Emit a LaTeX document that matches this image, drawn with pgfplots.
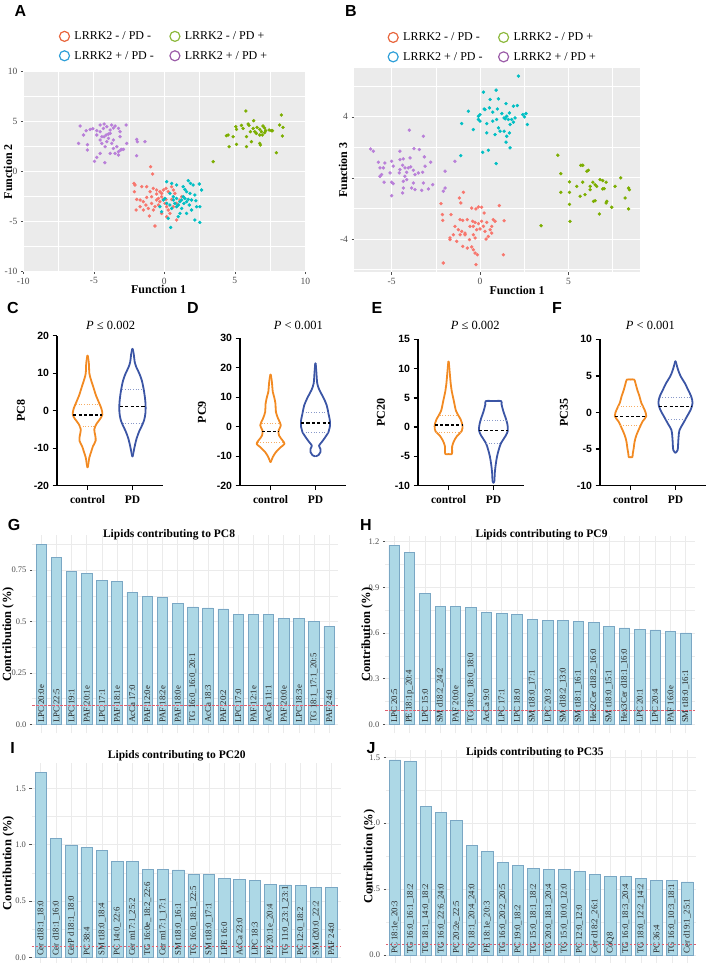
\documentclass[border=0pt]{standalone}
\usepackage{fontspec}
\setmainfont{Liberation Serif}
\setsansfont{Liberation Sans}
\usepackage{pgfplots}
\usepackage{pgfplotstable}
\pgfplotsset{compat=1.18}
\newcommand{\fs}[1]{\fontsize{#1bp}{#1bp}\selectfont}
\definecolor{gred}{HTML}{F8766D}
\definecolor{gcyan}{HTML}{00BFC4}
\definecolor{ggreen}{HTML}{7CAE00}
\definecolor{gpurple}{HTML}{B97FD9}
\definecolor{lred}{HTML}{E8663D}
\definecolor{lcyan}{HTML}{2E9FD8}
\definecolor{lgreen}{HTML}{8DB93E}
\definecolor{lpurple}{HTML}{9B5CA8}
\definecolor{ggbg}{HTML}{EBEBEB}
\definecolor{vorange}{HTML}{F28A22}
\definecolor{vblue}{HTML}{3B55A5}
\definecolor{barfill}{HTML}{ADD8E6}
\definecolor{bardraw}{HTML}{7AA7C4}
\definecolor{gridg}{HTML}{EBEBEB}
\definecolor{txtg}{HTML}{4D4D4D}
\definecolor{redline}{HTML}{E06070}

\pgfplotsset{
 ggscatter/.style={scale only axis, axis background/.style={fill=ggbg}, axis line style={draw=none},
   xmajorgrids, ymajorgrids, xminorgrids, yminorgrids,
   major grid style={white, line width=0.9bp}, minor grid style={white, line width=0.45bp},
   tick pos=left, tick align=outside, major tick length=2.5bp, minor tick length=0pt,
   tick style={txtg, line width=0.5bp}, tick label style={font=\fs{9.5}, text=txtg},
   /pgf/number format/assume math mode=true, label style={font=\bfseries\fs{12}},
   legend columns=2, legend cell align=left,
   legend style={draw=none, fill=none, font=\fs{12}, row sep=6bp,
     /tikz/every odd column/.append style={column sep=3bp},
     /tikz/every even column/.append style={column sep=14bp}}},
 pts/.style={only marks, mark=*, mark size=1.5bp, forget plot},
 leg/.style={only marks, mark=o, mark size=5bp, mark options={line width=1.2bp}},
 violinax/.style={scale only axis, width=106bp, xmin=-0.68, xmax=1.68,
   axis x line*=bottom, axis y line*=left, axis line style={-, line width=1.3bp},
   every outer x axis line/.append style={-}, every outer y axis line/.append style={-},
   xtick={0,1}, xticklabels={control,PD}, tick align=outside, major tick length=4.5bp,
   tick style={line width=1.3bp, black},
   yticklabel style={font=\sffamily\bfseries\fs{10.5}},
   xticklabel style={font=\bfseries\fs{11.5}, yshift=-2bp},
   /pgf/number format/assume math mode=true, clip=false,
   title style={font=\fs{12.5}, anchor=center}, ylabel style={font=\bfseries\fs{12}, anchor=center}},
 vline/.style={line width=1.8bp, smooth, tension=0.55, line cap=round, line join=round},
 med/.style={black, line width=1.4bp, dash pattern=on 3.2bp off 2.2bp},
 qrt/.style={line width=0.7bp, dotted},
 barax/.style={scale only axis, xmin=0.4, xmax=20.6, axis line style={draw=none},
   xtick={1,...,20}, xticklabels={}, xtick style={draw=none},
   xmajorgrids, ymajorgrids, yminorgrids,
   major grid style={gridg, line width=0.6bp}, minor grid style={gridg, line width=0.35bp},
   ytick pos=left, tick align=outside, major tick length=2.2bp, minor tick length=0pt,
   ytick style={txtg, line width=0.5bp}, yticklabel style={font=\fs{8.5}, text=txtg},
   ylabel={Contribution (\%)}, ylabel style={font=\bfseries\fs{12.5}, anchor=center},
   title style={font=\bfseries\fs{11.5}, anchor=center}, clip=false},
 bars/.style={ybar, fill=barfill, draw=bardraw, line width=0.7bp},
 blab/.style={draw=none, mark=none, point meta=explicit symbolic,
   nodes near coords={\pgfplotspointmeta},
   nodes near coords style={rotate=90, anchor=west, font=\fs{8.8}, inner sep=1.2bp, text=black!85}},
 rline/.style={draw=redline, line width=0.6bp, dash pattern=on 2.5bp off 1.5bp},
}

% violin profiles: y, half-width (data units)
\pgfplotstableread[row sep=\\]{
y w\\ -15.1 0.005\\ -14.0 0.02\\ -12.5 0.04\\ -11.0 0.08\\ -9.5 0.12\\ -8.0 0.18\\ -6.5 0.17\\ -5.0 0.15\\ -3.5 0.20\\ -2.2 0.28\\ -1.0 0.33\\ 0.5 0.31\\ 2.0 0.26\\ 4.0 0.19\\ 5.5 0.15\\ 7.0 0.11\\ 8.5 0.07\\ 10.0 0.04\\ 12.5 0.03\\ 14.7 0.005\\
}\vCc
\pgfplotstableread[row sep=\\]{
y w\\ -12.2 0.005\\ -11.3 0.02\\ -9.5 0.05\\ -7.5 0.09\\ -5.5 0.15\\ -4.0 0.21\\ -2.5 0.26\\ -0.5 0.29\\ 2.0 0.29\\ 5.0 0.26\\ 8.0 0.21\\ 10.0 0.15\\ 11.5 0.09\\ 13.0 0.05\\ 15.0 0.03\\ 16.5 0.005\\
}\vCp
\pgfplotstableread[row sep=\\]{
y w\\ -12.0 0.005\\ -10.3 0.05\\ -8.6 0.12\\ -6.9 0.23\\ -5.8 0.31\\ -4.7 0.27\\ -3.0 0.19\\ -1.25 0.18\\ 0.5 0.23\\ 2.7 0.17\\ 5.0 0.12\\ 7.8 0.11\\ 10.1 0.08\\ 11.8 0.05\\ 15.2 0.03\\ 17.7 0.005\\
}\vDc
\pgfplotstableread[row sep=\\]{
y w\\ -10.0 0.01\\ -9.6 0.07\\ -8.6 0.11\\ -7.5 0.11\\ -6.4 0.08\\ -5.2 0.14\\ -3.5 0.22\\ -1.8 0.29\\ -0.1 0.32\\ 2.2 0.32\\ 4.4 0.29\\ 7.3 0.25\\ 10.1 0.17\\ 12.4 0.09\\ 14.7 0.04\\ 18.6 0.02\\ 21.5 0.005\\
}\vDp
\pgfplotstableread[row sep=\\]{
y w\\ -4.6 0.0\\ -4.6 0.07\\ -4.1 0.08\\ -3.3 0.08\\ -2.4 0.12\\ -1.5 0.19\\ -0.7 0.29\\ 0.2 0.31\\ 1.3 0.27\\ 2.7 0.17\\ 4.4 0.12\\ 6.2 0.07\\ 7.3 0.05\\ 9.0 0.03\\ 11.2 0.005\\
}\vEc
\pgfplotstableread[row sep=\\]{
y w\\ -9.5 0.005\\ -9.2 0.02\\ -7.8 0.03\\ -6.4 0.05\\ -5.0 0.08\\ -3.8 0.12\\ -2.7 0.17\\ -1.5 0.27\\ -0.6 0.32\\ 0.5 0.31\\ 1.6 0.27\\ 2.7 0.22\\ 3.9 0.18\\ 4.45 0.17\\ 4.45 0.0\\
}\vEp
\pgfplotstableread[row sep=\\]{
y w\\ -6.1 0.0\\ -6.1 0.04\\ -5.6 0.05\\ -4.9 0.07\\ -4.0 0.09\\ -3.1 0.13\\ -2.1 0.20\\ -1.2 0.27\\ -0.5 0.35\\ 0.4 0.31\\ 1.3 0.24\\ 2.2 0.20\\ 3.1 0.15\\ 4.0 0.11\\ 4.5 0.08\\ 4.5 0.0\\
}\vFc
\pgfplotstableread[row sep=\\]{
y w\\ -5.5 0.005\\ -5.1 0.05\\ -4.2 0.06\\ -3.3 0.07\\ -2.4 0.09\\ -1.5 0.17\\ -0.5 0.26\\ 0.4 0.34\\ 1.3 0.38\\ 2.2 0.35\\ 3.1 0.28\\ 4.0 0.21\\ 4.9 0.12\\ 5.8 0.06\\ 7.0 0.005\\
}\vFp

% bar data
\pgfplotstableread[col sep=comma, row sep=\\]{
i,v,lab\\
1,0.876,LPC 20:0e\\ 2,0.811,LPC 22:5\\ 3,0.745,LPC 19:1\\ 4,0.733,PAF 20:1e\\ 5,0.702,LPC 17:1\\
6,0.694,PAF 18:1e\\ 7,0.642,AcCa 17:0\\ 8,0.621,PAF 12:0e\\ 9,0.616,PAF 18:2e\\ 10,0.587,PAF 18:0e\\
11,0.571,TG 16:0\_16:0\_20:1\\ 12,0.566,AcCa 18:3\\ 13,0.561,PAF 20:2\\ 14,0.535,LPC 17:0\\ 15,0.533,PAF 12:1e\\
16,0.533,AcCa 11:1\\ 17,0.516,PAF 20:0e\\ 18,0.514,LPC 18:3e\\ 19,0.501,TG 18:1\_17:1\_20:5\\ 20,0.475,PAF 24:0\\
}\tG
\pgfplotstableread[col sep=comma, row sep=\\]{
i,v,lab\\
1,1.176,LPC 20:5\\ 2,1.130,PE 18:1p\_20:4\\ 3,0.861,LPC 15:0\\ 4,0.777,SM d18:2\_24:2\\ 5,0.775,PAF 20:0e\\
6,0.769,TG 18:0\_18:0\_18:0\\ 7,0.736,AcCa 9:0\\ 8,0.727,LPC 17:1\\ 9,0.723,LPC 18:0\\ 10,0.690,SM t18:0\_17:1\\
11,0.685,LPC 20:3\\ 12,0.683,SM d18:2\_13:0\\ 13,0.674,SM t18:1\_16:1\\ 14,0.672,Hex2Cer d18:2\_16:0\\ 15,0.644,SM t18:0\_15:1\\
16,0.633,Hex3Cer d18:1\_16:0\\ 17,0.622,LPC 20:1\\ 18,0.620,LPC 20:4\\ 19,0.613,PAF 16:0e\\ 20,0.600,SM t18:0\_16:1\\
}\tH
\pgfplotstableread[col sep=comma, row sep=\\]{
i,v,lab\\
1,1.642,Cer d18:1\_18:0\\ 2,1.056,Cer d18:1\_16:0\\ 3,0.997,CerP d18:1\_18:0\\ 4,0.976,PC 38:4\\ 5,0.950,SM t18:0\_18:4\\
6,0.852,PC 14:0\_22:6\\ 7,0.852,Cer m17:1\_25:2\\ 8,0.781,TG 16:0e\_18:2\_22:6\\ 9,0.781,Cer m17:1\_17:1\\ 10,0.775,SM t18:0\_16:1\\
11,0.737,TG 16:0\_18:1\_22:5\\ 12,0.733,SM t18:0\_17:1\\ 13,0.701,LPE 16:0\\ 14,0.692,AcCa 23:0\\ 15,0.686,LPC 18:3\\
16,0.648,PE 20:1e\_20:4\\ 17,0.642,TG 11:0\_23:1\_23:1\\ 18,0.639,PC 12:0\_18:2\\ 19,0.618,SM d20:0\_22:2\\ 20,0.618,PAF 24:0\\
}\tI
\pgfplotstableread[col sep=comma, row sep=\\]{
i,v,lab\\
1,1.480,PC 18:1e\_20:3\\ 2,1.472,TG 16:0\_16:1\_18:2\\ 3,1.128,TG 18:1\_14:0\_18:2\\ 4,1.085,TG 16:0\_22:6\_24:0\\ 5,1.024,PC 20:2e\_22:5\\
6,0.832,TG 18:1\_20:4\_24:0\\ 7,0.787,PE 18:1e\_20:3\\ 8,0.703,TG 16:0\_20:2\_20:5\\ 9,0.680,PC 19:0\_18:2\\ 10,0.660,TG 15:0\_18:1\_18:2\\
11,0.652,TG 20:0\_18:1\_20:4\\ 12,0.652,TG 15:0\_10:0\_12:0\\ 13,0.637,PC 12:0\_12:0\\ 14,0.612,Cer d18:2\_26:1\\ 15,0.599,CoQ8\\
16,0.594,TG 16:0\_18:3\_20:4\\ 17,0.584,TG 18:0\_12:2\_14:2\\ 18,0.569,PC 36:4\\ 19,0.569,TG 16:0\_10:3\_18:1\\ 20,0.554,Cer d19:1\_25:1\\
}\tJ

\begin{document}
\begin{tikzpicture}

% ---------------- A ----------------
\begin{axis}[ggscatter, at={(23.3bp,-271.7bp)}, anchor=south west, width=282bp, height=200bp,
  xmin=-10, xmax=10, ymin=-10, ymax=10,
  xtick={-10,-5,0,5,10}, ytick={-10,-5,0,5,10},
  minor xtick={-7.5,-2.5,2.5,7.5}, minor ytick={-7.5,-2.5,2.5,7.5},
  xlabel={Function 1}, ylabel={Function 2},
  xlabel style={at={(axis description cs:0.48,-0.09)}, anchor=center},
  ylabel style={at={(axis description cs:-0.054,0.5)}, anchor=center},
  legend style={at={(axis description cs:0.5,1.035)}, anchor=south}]
\addlegendimage{leg, lred}\addlegendentry{LRRK2 - / PD -}
\addlegendimage{leg, lgreen}\addlegendentry{LRRK2 - / PD +}
\addlegendimage{leg, lcyan}\addlegendentry{LRRK2 + / PD -}
\addlegendimage{leg, lpurple}\addlegendentry{LRRK2 + / PD +}
\addplot[pts, gpurple] coordinates {(-5.97,4.57) (-5.54,4.10) (-5.26,4.23) (-5.07,4.30) (-5.73,3.67) (-6.08,2.83) (-5.45,2.17) (-4.79,4.10) (-4.55,4.00) (-4.32,4.33) (-4.27,4.77) (-4.08,4.50) (-3.84,4.17) (-3.73,4.67) (-3.61,4.37) (-3.49,4.57) (-3.25,4.33) (-3.14,4.00) (-2.71,4.67) (-4.27,3.50) (-4.13,3.67) (-3.96,3.33) (-3.84,3.83) (-4.43,2.83) (-4.20,2.50) (-4.08,3.00) (-3.73,2.83) (-3.61,2.33) (-3.37,2.50) (-3.25,2.00) (-3.09,2.17) (-2.90,2.23) (-2.67,2.83) (-3.49,1.83) (-3.84,1.83) (-4.55,1.83) (-4.79,1.43) (-4.95,1.03) (-4.22,0.90) (-3.25,1.67) (-1.96,3.23) (-1.91,3.00) (-1.37,3.00) (-1.96,1.60) (-5.45,2.70) (-4.55,3.17) (-3.96,3.77) (-4.79,3.67) (-4.43,3.50) (-3.61,3.17) (-4.55,4.67) (-3.14,3.50) (-3.02,2.23)};
\addplot[pts, ggreen] coordinates {(5.78,6.07) (6.34,5.10) (5.94,4.77) (6.01,4.63) (5.07,4.50) (5.12,4.23) (5.47,4.63) (6.11,4.00) (6.42,4.00) (6.58,4.43) (6.77,4.23) (7.00,4.57) (7.12,4.37) (7.19,4.10) (7.43,4.17) (7.59,4.10) (6.53,3.83) (6.77,3.67) (6.89,4.00) (6.96,3.67) (7.12,3.90) (5.83,3.50) (6.18,3.00) (6.77,2.83) (6.82,2.67) (5.83,2.50) (5.12,2.73) (4.60,2.50) (4.53,3.67) (4.41,3.60) (4.88,3.50) (8.30,5.67) (8.42,4.43) (8.18,4.67) (8.37,3.57) (7.95,1.90) (3.47,1.00) (5.59,4.33) (6.30,4.33) (7.67,4.10)};
\addplot[pts, gred] coordinates {(-0.97,0.50) (-0.83,-0.23) (-2.15,-1.17) (-2.08,-1.33) (-2.12,-2.00) (-1.60,-1.50) (-1.25,-1.50) (-1.01,-2.00) (-0.78,-1.67) (-0.54,-1.83) (-0.31,-2.00) (-0.19,-2.17) (-0.07,-1.83) (0.12,-1.67) (0.28,-2.00) (0.52,-1.50) (0.64,-1.83) (0.75,-2.17) (-1.96,-2.77) (-2.00,-3.83) (-1.72,-2.83) (-1.49,-3.00) (-1.30,-3.33) (-1.13,-3.67) (-0.90,-3.17) (-0.78,-3.83) (-0.66,-3.50) (-0.54,-2.83) (-0.42,-2.67) (-0.31,-3.00) (-0.07,-2.77) (0.05,-3.17) (0.17,-3.50) (0.28,-3.83) (0.40,-4.17) (0.64,-3.50) (0.87,-3.17) (1.11,-2.83) (1.23,-2.50) (-1.06,-4.43) (-0.66,-5.43) (-0.19,-4.17) (0.17,-4.50) (0.87,-4.83) (-0.42,-3.33) (-0.19,-2.50) (-1.72,-3.50) (-1.49,-3.83) (-1.25,-2.57) (-0.90,-2.50) (0.12,-2.77) (0.52,-2.77) (-0.54,-2.23)};
\addplot[pts, gcyan] coordinates {(0.17,-1.00) (0.52,-1.17) (0.87,-1.33) (1.34,-1.50) (1.46,-1.77) (1.70,-0.90) (1.86,-1.17) (2.05,-1.33) (2.48,-1.23) (2.64,-1.83) (1.58,-2.00) (1.82,-2.17) (2.17,-2.33) (1.46,-2.67) (1.23,-2.83) (1.11,-3.00) (0.99,-3.33) (0.64,-2.83) (0.75,-3.17) (0.40,-3.33) (0.17,-3.17) (-0.31,-3.50) (-0.19,-4.00) (0.28,-4.67) (0.52,-3.67) (0.87,-3.50) (1.23,-3.67) (1.39,-3.17) (1.58,-3.00) (1.70,-2.77) (1.93,-2.83) (2.24,-2.90) (2.29,-3.50) (1.93,-3.83) (1.58,-4.17) (1.11,-4.17) (2.17,-4.83) (2.52,-5.07) (0.45,-5.57) (0.99,-4.50) (1.34,-2.50) (0.64,-2.50) (0.87,-2.67) (1.77,-3.33) (2.52,-3.50) (0.05,-2.67) (-0.07,-2.83) (0.40,-2.17)};
\end{axis}

% ---------------- B ----------------
\begin{axis}[ggscatter, at={(354bp,-272bp)}, anchor=south west, width=286bp, height=204bp,
  xmin=-7.13, xmax=9.05, ymin=-6.16, ymax=7.2,
  xtick={-5,0,5}, ytick={-4,0,4},
  minor xtick={-2.5,2.5,7.5}, minor ytick={-6,-2,2,6},
  xlabel={Function 1}, ylabel={Function 3},
  xlabel style={at={(axis description cs:0.57,-0.09)}, anchor=center},
  ylabel style={at={(axis description cs:-0.038,0.5)}, anchor=center},
  legend style={at={(axis description cs:0.486,1.011)}, anchor=south}]
\addlegendimage{leg, lred}\addlegendentry{LRRK2 - / PD -}
\addlegendimage{leg, lgreen}\addlegendentry{LRRK2 - / PD +}
\addlegendimage{leg, lcyan}\addlegendentry{LRRK2 + / PD -}
\addlegendimage{leg, lpurple}\addlegendentry{LRRK2 + / PD +}
\addplot[pts, gcyan] coordinates {(2.17,6.67) (0.19,5.62) (0.91,5.75) (0.57,5.14) (1.04,5.18) (1.47,4.87) (1.89,4.70) (2.11,4.74) (-0.66,4.37) (-0.09,4.04) (0.00,4.15) (0.23,4.52) (0.28,4.48) (0.53,4.59) (0.72,4.31) (0.98,4.52) (1.23,4.22) (1.36,3.93) (1.51,4.04) (1.66,4.26) (1.79,3.83) (1.89,3.65) (2.42,4.15) (2.60,4.22) (2.51,4.00) (2.68,3.50) (-1.04,3.56) (-0.38,3.17) (-0.09,3.83) (0.38,3.56) (0.72,3.72) (0.94,3.83) (1.42,3.87) (1.70,3.50) (0.38,2.95) (0.85,2.84) (1.13,3.06) (1.36,3.06) (1.51,2.73) (1.66,2.95) (1.47,2.34) (1.70,1.97) (0.15,1.68) (0.47,1.81) (0.91,0.94) (-1.09,1.46) (0.00,3.72) (1.04,3.28) (1.98,3.93) (1.60,3.83)};
\addplot[pts, gpurple] coordinates {(-4.00,3.13) (-3.21,2.73) (-6.19,1.90) (-6.04,1.75) (-4.53,1.75) (-3.74,1.92) (-3.43,1.86) (-5.75,1.03) (-5.38,0.98) (-5.00,1.09) (-4.53,1.20) (-4.34,1.25) (-3.96,1.31) (-3.15,1.38) (-2.79,1.03) (-5.66,0.66) (-5.47,0.66) (-4.91,0.77) (-4.53,0.55) (-4.38,0.83) (-4.25,0.66) (-4.06,0.66) (-3.92,0.72) (-3.77,0.50) (-3.49,0.33) (-3.11,0.77) (-5.57,0.22) (-5.09,0.33) (-4.57,0.33) (-4.15,0.37) (-3.68,0.22) (-3.25,0.37) (-1.98,0.44) (-5.43,-0.28) (-5.00,-0.28) (-4.91,-0.37) (-4.34,-0.22) (-4.15,-0.11) (-3.77,-0.33) (-3.21,-0.33) (-2.68,-0.44) (-4.34,-0.66) (-3.87,-0.66) (-3.68,-0.77) (-3.30,-0.81) (-2.92,-0.72) (-5.00,-1.16) (-4.38,-0.98) (-2.08,-0.87) (-1.98,-0.66) (-1.42,1.09) (-5.66,0.11) (-4.25,0.11)};
\addplot[pts, gred] coordinates {(-0.94,-0.94) (-1.17,-1.31) (-1.09,-1.64) (-2.21,-1.68) (-1.64,-2.40) (-2.13,-2.40) (-2.11,-2.78) (-0.47,-1.97) (-0.23,-2.03) (-0.09,-1.90) (0.09,-1.92) (0.23,-2.30) (1.09,-1.81) (-1.13,-2.73) (-0.98,-2.78) (-0.72,-2.73) (-0.42,-2.84) (-0.28,-2.91) (-0.09,-2.99) (0.09,-2.84) (0.38,-2.91) (0.75,-2.73) (0.85,-2.84) (1.36,-2.80) (-1.42,-3.17) (-1.23,-3.39) (-1.04,-3.50) (-0.85,-3.61) (-0.57,-3.17) (-0.38,-3.17) (-0.19,-3.39) (0.00,-3.34) (0.19,-3.17) (0.28,-3.50) (0.57,-3.39) (0.66,-3.17) (-1.70,-3.93) (-1.51,-3.72) (-1.13,-3.72) (-0.85,-3.72) (-0.38,-3.72) (-0.28,-3.93) (0.34,-4.00) (0.47,-3.83) (0.66,-3.61) (-0.98,-4.48) (-0.72,-4.59) (-0.47,-4.52) (-0.38,-4.70) (-0.28,-4.92) (-0.15,-5.03) (1.32,-5.03) (-2.08,-5.57) (-0.23,-5.68) (-1.70,-4.04) (-1.32,-4.15) (-0.60,-4.04)};
\addplot[pts, ggreen] coordinates {(4.40,1.49) (4.57,0.28) (5.70,0.83) (5.81,0.83) (6.04,0.44) (6.13,0.50) (5.06,-0.26) (5.81,-0.28) (6.23,-0.55) (6.38,-0.28) (6.51,-0.44) (6.79,-0.11) (6.94,-0.17) (7.13,-0.28) (7.64,-0.55) (7.96,0.00) (4.57,-0.94) (5.06,-0.94) (5.66,-1.20) (5.94,-1.09) (6.23,-0.77) (6.42,-1.53) (6.51,-1.49) (6.94,-0.72) (7.02,-0.70) (7.17,-1.53) (7.13,-1.64) (7.45,-1.92) (6.75,-2.36) (5.06,-1.73) (8.40,-0.66) (8.45,-0.77) (8.21,-1.31) (8.40,-2.03) (5.09,-2.84) (3.45,-3.13) (6.60,-0.55) (5.47,-0.55)};
\end{axis}

% ---------------- C ----------------
\begin{axis}[violinax, at={(57bp,-485.7bp)}, anchor=south west, height=150bp,
  ymin=-20, ymax=20, ytick={-20,-10,0,10,20},
  title={\textit{P} ≤ 0.002}, title style={at={(axis description cs:0.506,1.027)}},
  ylabel={PC8}, ylabel style={at={(axis description cs:-0.34,0.5)}}]
\addplot[vline, vorange] table[x expr=\thisrow{w}, y=y] {\vCc};
\addplot[vline, vorange] table[x expr=-\thisrow{w}, y=y] {\vCc};
\addplot[vline, vblue] table[x expr=1+\thisrow{w}, y=y] {\vCp};
\addplot[vline, vblue] table[x expr=1-\thisrow{w}, y=y] {\vCp};
\addplot[qrt, vorange!70] coordinates {(-0.26,1.8) (0.26,1.8)};
\addplot[qrt, vorange!70] coordinates {(-0.17,-4.1) (0.17,-4.1)};
\addplot[qrt, vblue!60] coordinates {(0.77,5.8) (1.23,5.8)};
\addplot[qrt, vblue!60] coordinates {(0.78,-3.3) (1.22,-3.3)};
\addplot[med] coordinates {(-0.32,-1.15) (0.32,-1.15)};
\addplot[med] coordinates {(0.72,1.15) (1.28,1.15)};
\end{axis}

% ---------------- D ----------------
\begin{axis}[violinax, at={(240bp,-485.7bp)}, anchor=south west, height=147.4bp,
  ymin=-20, ymax=30, ytick={-20,-10,0,10,20,30},
  title={\textit{P} < 0.001}, title style={at={(axis description cs:0.55,1.045)}},
  ylabel={PC9}, ylabel style={at={(axis description cs:-0.36,0.5)}}]
\addplot[vline, vorange] table[x expr=\thisrow{w}, y=y] {\vDc};
\addplot[vline, vorange] table[x expr=-\thisrow{w}, y=y] {\vDc};
\addplot[vline, vblue] table[x expr=1+\thisrow{w}, y=y] {\vDp};
\addplot[vline, vblue] table[x expr=1-\thisrow{w}, y=y] {\vDp};
\addplot[qrt, vorange!70] coordinates {(-0.2,1.25) (0.2,1.25)};
\addplot[qrt, vorange!70] coordinates {(-0.29,-5.2) (0.29,-5.2)};
\addplot[qrt, vblue!60] coordinates {(0.72,4.8) (1.28,4.8)};
\addplot[qrt, vblue!60] coordinates {(0.72,-2.0) (1.28,-2.0)};
\addplot[med] coordinates {(-0.19,-1.6) (0.19,-1.6)};
\addplot[med] coordinates {(0.68,1.25) (1.32,1.25)};
\end{axis}

% ---------------- E ----------------
\begin{axis}[violinax, at={(418bp,-485.7bp)}, anchor=south west, height=146.4bp,
  ymin=-10, ymax=15, ytick={-10,-5,0,5,10,15},
  title={\textit{P} ≤ 0.002}, title style={at={(axis description cs:0.54,1.052)}},
  ylabel={PC20}, ylabel style={at={(axis description cs:-0.35,0.5)}}]
\addplot[vline, vorange] table[x expr=\thisrow{w}, y=y] {\vEc};
\addplot[vline, vorange] table[x expr=-\thisrow{w}, y=y] {\vEc};
\addplot[vline, vblue] table[x expr=1+\thisrow{w}, y=y] {\vEp};
\addplot[vline, vblue] table[x expr=1-\thisrow{w}, y=y] {\vEp};
\addplot[qrt, vorange!70] coordinates {(-0.2,2.05) (0.2,2.05)};
\addplot[qrt, vorange!70] coordinates {(-0.28,-0.85) (0.28,-0.85)};
\addplot[qrt, vblue!60] coordinates {(0.73,1.2) (1.27,1.2)};
\addplot[qrt, vblue!60] coordinates {(0.83,-2.7) (1.17,-2.7)};
\addplot[med] coordinates {(-0.31,0.4) (0.31,0.4)};
\addplot[med] coordinates {(0.68,-0.55) (1.32,-0.55)};
\end{axis}

% ---------------- F ----------------
\begin{axis}[violinax, at={(600bp,-485.7bp)}, anchor=south west, height=146.4bp,
  ymin=-10, ymax=10, ytick={-10,-5,0,5,10},
  title={\textit{P} < 0.001}, title style={at={(axis description cs:0.476,1.052)}},
  ylabel={PC35}, ylabel style={at={(axis description cs:-0.34,0.5)}}]
\addplot[vline, vorange] table[x expr=\thisrow{w}, y=y] {\vFc};
\addplot[vline, vorange] table[x expr=-\thisrow{w}, y=y] {\vFc};
\addplot[vline, vblue] table[x expr=1+\thisrow{w}, y=y] {\vFp};
\addplot[vline, vblue] table[x expr=1-\thisrow{w}, y=y] {\vFp};
\addplot[qrt, vorange!70] coordinates {(-0.28,0.8) (0.28,0.8)};
\addplot[qrt, vorange!70] coordinates {(-0.23,-1.7) (0.23,-1.7)};
\addplot[qrt, vblue!60] coordinates {(0.65,2.1) (1.35,2.1)};
\addplot[qrt, vblue!60] coordinates {(0.78,-0.9) (1.22,-0.9)};
\addplot[med] coordinates {(-0.35,-0.55) (0.35,-0.55)};
\addplot[med] coordinates {(0.63,0.8) (1.37,0.8)};
\end{axis}

% ---------------- G ----------------
\begin{axis}[barax, at={(32.2bp,-733.3bp)}, anchor=south west, width=306.1bp, height=198.1bp,
  ymin=-0.044, ymax=0.92, ytick={0,0.25,0.5,0.75}, yticklabels={0.0,0.25,0.5,0.75},
  minor ytick={0.125,0.375,0.625,0.875},
  title={Lipids contributing to PC8}, title style={at={(axis description cs:0.447,0.971)}},
  ylabel style={at={(axis description cs:-0.079,0.5)}}]
\addplot[bars, bar width=0.69] table[x=i, y=v] {\tG};
\addplot[blab] table[x=i, y expr=0, meta=lab] {\tG};
\addplot[rline] coordinates {(0.4,0.09) (20.6,0.09)};
\end{axis}

% ---------------- H ----------------
\begin{axis}[barax, at={(385bp,-733.25bp)}, anchor=south west, width=310bp, height=196.9bp,
  ymin=-0.0588, ymax=1.235, ytick={0,0.3,0.6,0.9,1.2}, yticklabels={0.0,0.3,0.6,0.9,1.2},
  minor ytick={0.15,0.45,0.75,1.05},
  title={Lipids contributing to PC9}, title style={at={(axis description cs:0.505,0.976)}},
  ylabel style={at={(axis description cs:-0.058,0.5)}}]
\addplot[bars, bar width=0.68] table[x=i, y=v] {\tH};
\addplot[blab] table[x=i, y expr=0, meta=lab] {\tH};
\addplot[rline] coordinates {(0.4,0.09) (20.6,0.09)};
\end{axis}

% ---------------- I ----------------
\begin{axis}[barax, at={(31.6bp,-962.9bp)}, anchor=south west, width=308.9bp, height=199.8bp,
  ymin=-0.05, ymax=1.724, ytick={0,0.5,1,1.5}, yticklabels={0.0,0.5,1.0,1.5},
  minor ytick={0.25,0.75,1.25},
  title={Lipids contributing to PC20}, title style={at={(axis description cs:0.47,1.007)}},
  ylabel style={at={(axis description cs:-0.075,0.5)}}]
\addplot[bars, bar width=0.75] table[x=i, y=v] {\tI};
\addplot[blab] table[x=i, y expr=0, meta=lab] {\tI};
\addplot[rline] coordinates {(0.4,0.094) (20.6,0.094)};
\end{axis}

% ---------------- J ----------------
\begin{axis}[barax, at={(385.8bp,-962.9bp)}, anchor=south west, width=310.6bp, height=212.7bp,
  ymin=-0.06, ymax=1.554, ytick={0,0.5,1,1.5}, yticklabels={0.0,0.5,1.0,1.5},
  minor ytick={0.25,0.75,1.25},
  title={Lipids contributing to PC35}, title style={at={(axis description cs:0.48,0.962)}},
  ylabel style={at={(axis description cs:-0.053,0.5)}}]
\addplot[bars, bar width=0.74] table[x=i, y=v] {\tJ};
\addplot[blab] table[x=i, y expr=0, meta=lab] {\tJ};
\addplot[rline] coordinates {(0.4,0.085) (20.6,0.085)};
\end{axis}

% panel letters
\begin{scope}[every node/.style={font=\sffamily\bfseries\fs{16}}]
\node at (20.5bp,-11bp) {A};
\node at (351bp,-11bp) {B};
\node at (13bp,-308bp) {C};
\node at (193bp,-308bp) {D};
\node at (377bp,-308bp) {E};
\node at (557bp,-308bp) {F};
\node at (14bp,-525bp) {G};
\node at (366bp,-525bp) {H};
\node at (12.5bp,-748bp) {I};
\node at (371bp,-748bp) {J};
\end{scope}

\pgfresetboundingbox
\useasboundingbox (0,0) rectangle (721bp,-964bp);
\end{tikzpicture}
\end{document}
